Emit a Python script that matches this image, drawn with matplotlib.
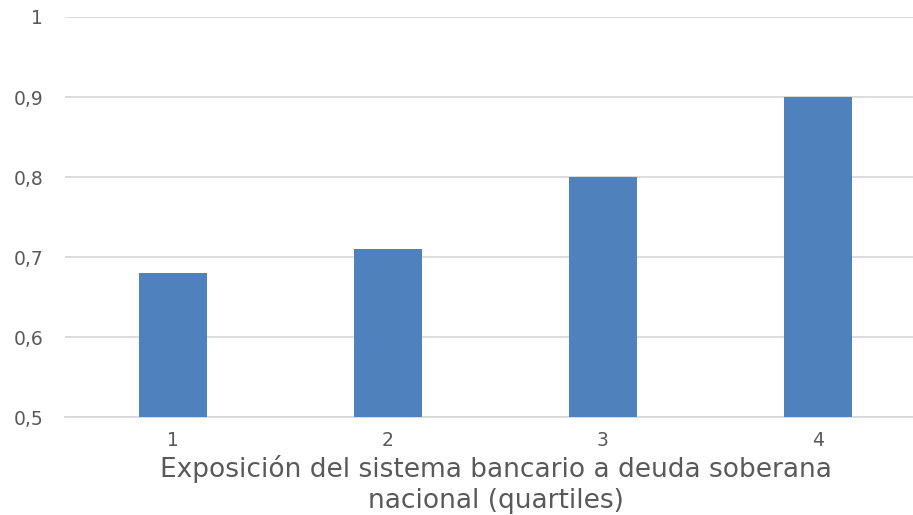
import matplotlib
matplotlib.use("Agg")
import matplotlib.pyplot as plt
import numpy as np

# quartiles of bank exposure to domestic sovereign debt
quartiles = ["1", "2", "3", "4"]
values = [0.68, 0.71, 0.80, 0.90]
yticks = [0.5, 0.6, 0.7, 0.8, 0.9, 1.0]
ylabels = ["0,5", "0,6", "0,7", "0,8", "0,9", "1"]

text_color = "#595959"
bar_color = "#4F81BD"
grid_color = "#D9D9D9"

plt.rcParams['font.family'] = ['DejaVu Sans']

fig = plt.figure(figsize=(9.13, 5.15), dpi=100)
ax = fig.add_axes([0.0717, 0.190, 0.942, 0.777])

x = np.arange(len(quartiles))
ax.bar(x, [v - 0.5 for v in values], bottom=0.5, width=0.316,
       color=bar_color, zorder=3)

ax.set_xlim(-0.5, len(quartiles) - 0.5)
ax.set_ylim(0.5, 1.0)
ax.set_yticks(yticks)
ax.set_yticklabels(ylabels)
ax.set_xticks(x)
ax.set_xticklabels(quartiles)

ax.grid(axis='y', color=grid_color, linewidth=1.3, zorder=0)
ax.set_axisbelow(True)
for side in ['top', 'right', 'left', 'bottom']:
    ax.spines[side].set_visible(False)
ax.axhline(0.5, color=grid_color, linewidth=1.3, zorder=1, clip_on=False)

ax.tick_params(axis='both', length=0, labelsize=13.5, colors=text_color)
ax.tick_params(axis='y', pad=16)
ax.tick_params(axis='x', pad=10)

ax.text(0.5, -0.095, "Exposición del sistema bancario a deuda soberana\nnacional (quartiles)",
        transform=ax.transAxes, ha='center', va='top', fontsize=19,
        color=text_color, linespacing=1.22)

plt.savefig("out.png", dpi=100)
